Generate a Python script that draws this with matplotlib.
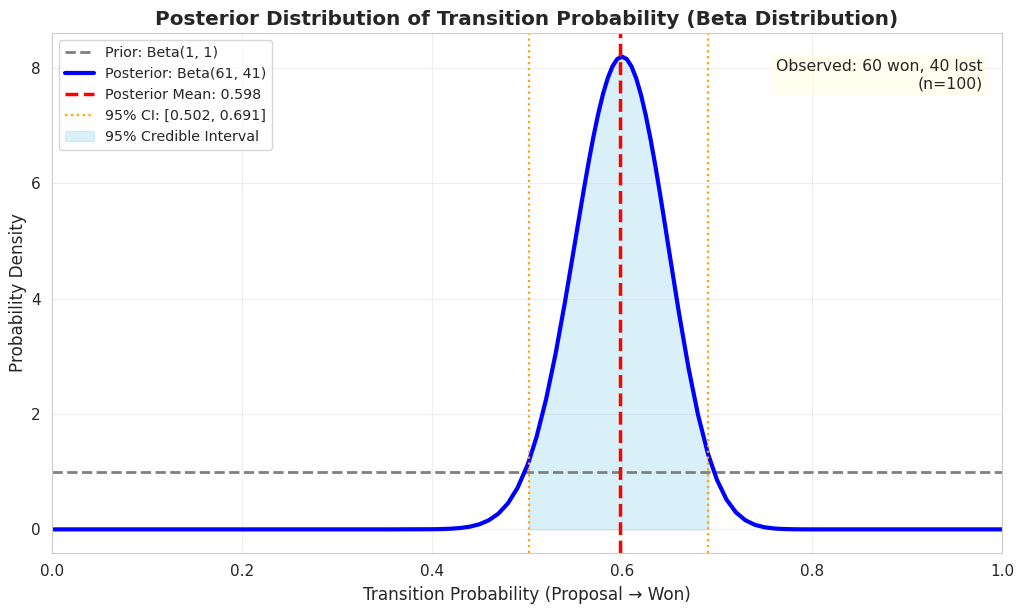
import numpy as np
import matplotlib.pyplot as plt
import seaborn as sns

sns.set_style("whitegrid")

# posterior density
x_vals = [0.0, 0.35, 0.40, 0.41, 0.42, 0.43, 0.44, 0.45, 0.46, 0.47, 0.48, 0.49,
          0.50, 0.502, 0.51, 0.52, 0.53, 0.54, 0.55, 0.555, 0.56, 0.565, 0.57,
          0.575, 0.58, 0.585, 0.59, 0.595, 0.60, 0.605, 0.61, 0.615, 0.62, 0.625,
          0.63, 0.635, 0.64, 0.645, 0.65, 0.66, 0.67, 0.68, 0.69, 0.691, 0.70,
          0.71, 0.72, 0.73, 0.74, 0.75, 0.76, 0.77, 0.78, 0.79, 0.80, 0.85, 1.0]
density = [0.0, 0.0, 0.0025, 0.0055, 0.0119, 0.0243, 0.0475, 0.089, 0.160, 0.275,
           0.454, 0.719, 1.095, 1.185, 1.601, 2.250, 3.039, 3.947, 4.927, 5.424,
           5.912, 6.380, 6.816, 7.211, 7.551, 7.827, 8.032, 8.158, 8.200, 8.157,
           8.030, 7.821, 7.537, 7.184, 6.774, 6.317, 5.824, 5.310, 4.785, 3.751,
           2.801, 1.990, 1.342, 1.287, 0.858, 0.517, 0.294, 0.157, 0.0785, 0.0366,
           0.0158, 0.0063, 0.0023, 0.0008, 0.0002, 0.0, 0.0]

prior_level = 1.0
post_mean = 0.598
ci_low, ci_high = 0.502, 0.691
n_won, n_lost = 60, 40

x_vals = np.array(x_vals)
density = np.array(density)

fig, ax = plt.subplots(figsize=(10.24, 6.1), dpi=100)
fig.subplots_adjust(left=0.0508, right=0.9785, top=0.946, bottom=0.0934)

ax.axhline(prior_level, color='gray', linestyle='--', linewidth=2, label='Prior: Beta(1, 1)')
ax.plot(x_vals, density, color='blue', linewidth=3, label='Posterior: Beta(61, 41)')
ax.axvline(post_mean, color='red', linestyle='--', linewidth=2.5, label=f'Posterior Mean: {post_mean:.3f}')
ax.axvline(ci_low, color='orange', linestyle=':', linewidth=1.6, label=f'95% CI: [{ci_low:.3f}, {ci_high:.3f}]')
ax.axvline(ci_high, color='orange', linestyle=':', linewidth=1.6)

mask = (x_vals >= ci_low) & (x_vals <= ci_high)
ax.fill_between(x_vals[mask], density[mask], color='skyblue', alpha=0.3, label='95% Credible Interval')

ax.set_xlim(0, 1)
ax.tick_params(labelsize=11, pad=4.5)
ax.set_xlabel('Transition Probability (Proposal → Won)', fontsize=12.2, labelpad=5)
ax.set_ylabel('Probability Density', fontsize=12.2, labelpad=3)
ax.set_title('Posterior Distribution of Transition Probability (Beta Distribution)',
             fontsize=14.4, fontweight='bold', pad=6)
ax.grid(True, alpha=0.3)
ax.legend(loc='upper left', fontsize=10.3)

ax.text(0.98, 0.95, f'Observed: {n_won} won, {n_lost} lost\n(n={n_won + n_lost})',
        transform=ax.transAxes, fontsize=11.3, ha='right', va='top',
        bbox=dict(boxstyle='round', facecolor='lightyellow', alpha=0.5, edgecolor='none'))

plt.savefig('out.png', dpi=100)
